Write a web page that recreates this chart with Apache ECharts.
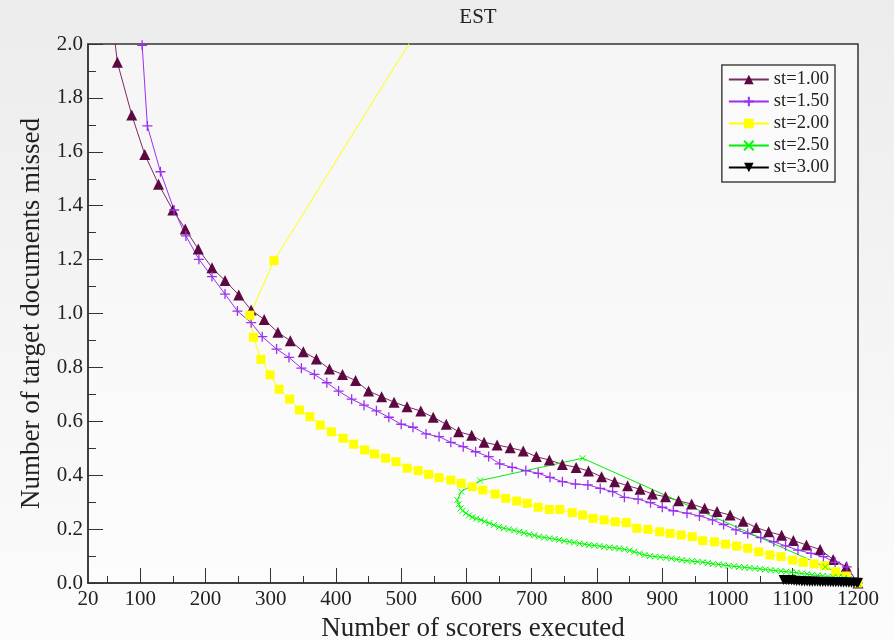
<!DOCTYPE html>
<html>
<head>
<meta charset="utf-8">
<script src="https://cdn.jsdelivr.net/npm/echarts@6/dist/echarts.min.js"></script>
<style>
  html, body { margin: 0; padding: 0; }
  #chart { width: 894px; height: 640px; }
</style>
</head>
<body>
<div id="chart"></div>
<script>
// values, [scorers executed, documents missed]
const st100 = [[52,2.2],[65,1.932],[87,1.737],[107,1.59],[128,1.48],[150,1.384],[169,1.314],[189,1.239],[210,1.17],[230,1.122],[251,1.069],[270,1.013],[290,0.978],[311,0.930],[330,0.899],[350,0.858],[370,0.831],[390,0.794],[410,0.774],[430,0.751],[450,0.712],[470,0.691],[489,0.671],[509,0.654],[530,0.638],[549,0.615],[569,0.589],[588,0.561],[608,0.548],[627,0.522],[647,0.512],[667,0.502],[687,0.490],[707,0.469],[727,0.456],[747,0.440],[768,0.429],[787,0.416],[807,0.394],[827,0.376],[847,0.361],[866,0.348],[885,0.330],[905,0.320],[925,0.305],[945,0.293],[965,0.277],[984,0.265],[1004,0.252],[1024,0.229],[1044,0.206],[1063,0.190],[1083,0.177],[1101,0.158],[1121,0.141],[1142,0.124],[1162,0.087],[1182,0.060],[1200,0.0]];

const st150 = [[101,2.3],[103,1.995],[111,1.696],[131,1.526],[152,1.384],[170,1.288],[190,1.201],[210,1.137],[230,1.072],[249,1.009],[270,0.966],[287,0.914],[309,0.868],[328,0.837],[347,0.797],[367,0.774],[386,0.743],[404,0.712],[424,0.682],[443,0.660],[462,0.639],[481,0.615],[500,0.589],[518,0.578],[538,0.553],[558,0.543],[576,0.522],[595,0.506],[614,0.487],[634,0.469],[651,0.442],[670,0.429],[691,0.417],[710,0.407],[728,0.392],[747,0.376],[767,0.367],[786,0.364],[805,0.351],[824,0.339],[842,0.318],[863,0.311],[882,0.298],[900,0.281],[917,0.268],[938,0.259],[957,0.249],[977,0.234],[994,0.217],[1013,0.197],[1031,0.184],[1051,0.168],[1071,0.153],[1089,0.138],[1108,0.122],[1128,0.110],[1147,0.098],[1165,0.077],[1183,0.060],[1200,0.0]];

const st200 = [[640,2.5],[305,1.196],[268,0.994],[273.5,0.912],[285,0.830],[299,0.772],[313,0.719],[329,0.682],[344,0.642],[360,0.617],[376,0.586],[393,0.561],[411,0.537],[427,0.515],[444,0.494],[459,0.479],[476,0.463],[492,0.450],[509,0.426],[526,0.417],[542,0.403],[558,0.391],[576,0.382],[592,0.370],[609,0.357],[625,0.345],[644,0.330],[660,0.314],[677,0.304],[693,0.296],[710,0.281],[727,0.273],[743,0.273],[762,0.261],[778,0.252],[794,0.240],[811,0.234],[828,0.227],[845,0.224],[861,0.203],[878,0.199],[896,0.190],[912,0.184],[929,0.178],[946,0.172],[962,0.157],[980,0.153],[997,0.144],[1014,0.137],[1031,0.129],[1048,0.116],[1065,0.104],[1082,0.098],[1100,0.085],[1116,0.077],[1133,0.071],[1149,0.064],[1166,0.042],[1182,0.026],[1200,0.0]];

const st250 = [[1200,0.0],[1150,0.06],[778,0.463],[621,0.380],[592,0.339],[586,0.308],[588,0.292],[591,0.277],[594,0.268],[599,0.259],[604,0.251],[609,0.244],[615,0.239],[622,0.234],[628,0.228],[635,0.222],[642,0.215],[650,0.208],[657,0.203],[665,0.199],[673,0.195],[681,0.190],[688,0.186],[696,0.181],[704,0.177],[711,0.172],[719,0.169],[727,0.166],[735,0.163],[742,0.160],[750,0.156],[758,0.153],[765,0.150],[773,0.147],[781,0.144],[788,0.141],[796,0.139],[804,0.137],[811,0.134],[819,0.132],[827,0.130],[834,0.128],[842,0.125],[850,0.121],[857,0.116],[865,0.110],[873,0.104],[881,0.100],[889,0.098],[897,0.096],[906,0.094],[914,0.091],[922,0.088],[930,0.085],[938,0.083],[946,0.081],[954,0.079],[962,0.077],[970,0.074],[978,0.071],[986,0.069],[994,0.067],[1002,0.064],[1010,0.062],[1018,0.060],[1026,0.058],[1034,0.056],[1042,0.054],[1050,0.052],[1058,0.050],[1066,0.048],[1074,0.046],[1082,0.044],[1090,0.042],[1098,0.040],[1106,0.038],[1114,0.035],[1122,0.033],[1130,0.030],[1138,0.028],[1146,0.026],[1154,0.024],[1162,0.022],[1170,0.020],[1178,0.018],[1186,0.015],[1193,0.010],[1200,0.0]];

const st300 = [[1086,0.011],[1090,0.011],[1094,0.010],[1098,0.010],[1102,0.008],[1106,0.007],[1110,0.007],[1114,0.006],[1118,0.006],[1122,0.006],[1126,0.005],[1130,0.005],[1134,0.005],[1138,0.005],[1142,0.004],[1146,0.004],[1150,0.004],[1154,0.004],[1158,0.003],[1162,0.003],[1166,0.003],[1170,0.003],[1174,0.002],[1178,0.002],[1182,0.002],[1186,0.001],[1190,0.001],[1194,0.001],[1198,0.0005],[1200,0.0]];

const xLabels = [20,100,200,300,400,500,600,700,800,900,1000,1100,1200];
const xMajor = [100,200,300,400,500,600,700,800,900,1000,1100,1200];
const xMinor = [50,150,250,350,450,550,650,750,850,950,1050,1150];

const serif = 'Liberation Serif';
const plus = 'path://M0,5L10,5M5,0L5,10';
const cross = 'path://M0,0L10,10M10,0L0,10';

const chart = echarts.init(document.getElementById('chart'));

function series(name, data, color, lineColor, symbol, size, extra) {
  return Object.assign({
    name: name,
    type: 'line',
    data: data,
    symbol: symbol,
    symbolSize: size,
    lineStyle: { color: lineColor, width: 1 },
    itemStyle: { color: color },
    emphasis: { disabled: true }
  }, extra || {});
}

chart.setOption({
  animation: false,
  backgroundColor: new echarts.graphic.LinearGradient(0, 0, 0, 1, [
    { offset: 0, color: '#ececec' },
    { offset: 1, color: '#fcfcfc' }
  ]),
  title: {
    text: 'EST',
    left: 473,
    textAlign: 'center',
    top: 2,
    textStyle: { fontFamily: serif, fontSize: 21, fontWeight: 'normal', color: '#222' }
  },
  legend: {
    orient: 'vertical',
    right: 59,
    top: 65,
    padding: [5, 6, 5, 6],
    itemGap: 3,
    itemWidth: 40,
    itemHeight: 12,
    backgroundColor: '#fafafa',
    borderColor: '#444',
    borderWidth: 1.5,
    borderRadius: 0,
    textStyle: { fontFamily: serif, fontSize: 18.5, color: '#222' },
    data: ['st=1.00', 'st=1.50', 'st=2.00', 'st=2.50', 'st=3.00']
  },
  grid: {
    left: 88,
    right: 36,
    top: 44,
    bottom: 57,
    outerBoundsMode: 'none',
    containLabel: false,
    show: true,
    backgroundColor: 'rgba(255,255,255,0.45)',
    borderColor: '#333',
    borderWidth: 1.5
  },
  xAxis: [{
    type: 'value',
    min: 20,
    max: 1200,
    name: 'Number of scorers executed',
    nameLocation: 'middle',
    nameGap: 32,
    nameTextStyle: { fontFamily: serif, fontSize: 27, color: '#222' },
    axisLine: { lineStyle: { color: '#333', width: 1.5 } },
    axisTick: { inside: true, length: 15, customValues: xMajor, lineStyle: { color: '#333' } },
    axisLabel: {
      customValues: xLabels, fontFamily: serif, fontSize: 21, color: '#222', margin: 6,
      formatter: v => String(v)
    },
    splitLine: { show: false }
  }, {
    type: 'value',
    min: 20,
    max: 1200,
    position: 'bottom',
    axisLine: { show: false },
    axisTick: { inside: true, length: 7, customValues: xMinor, lineStyle: { color: '#333' } },
    axisLabel: { show: false },
    splitLine: { show: false }
  }],
  yAxis: {
    type: 'value',
    min: 0,
    max: 2,
    interval: 0.2,
    name: 'Number of target documents missed',
    nameLocation: 'middle',
    nameGap: 42,
    nameTextStyle: { fontFamily: serif, fontSize: 27, color: '#222' },
    axisLine: { show: true, lineStyle: { color: '#333', width: 1.5 } },
    axisTick: { show: true, inside: true, length: 15, lineStyle: { color: '#333' } },
    minorTick: { show: true, splitNumber: 2, length: 8, lineStyle: { color: '#333' } },
    axisLabel: { fontFamily: serif, fontSize: 21, color: '#222', margin: 5, formatter: v => v.toFixed(1) },
    splitLine: { show: false }
  },
  series: [
    series('st=1.00', st100, '#5e0842', '#7a2a62', 'triangle', 11),
    series('st=1.50', st150, '#9a30f0', '#9a30f0', plus, 10,
      { itemStyle: { color: '#9a30f0', borderColor: '#9a30f0', borderWidth: 1.3 } }),
    series('st=2.00', st200, '#ffff00', '#ffff00', 'rect', 9),
    series('st=2.50', st250, '#00ff00', '#00ee00', cross, 6,
      { itemStyle: { color: '#00ff00', borderColor: '#00ff00', borderWidth: 1 } }),
    series('st=3.00', st300, '#000000', '#000000', 'triangle', 10, { symbolRotate: 180 })
  ]
});
</script>
</body>
</html>
